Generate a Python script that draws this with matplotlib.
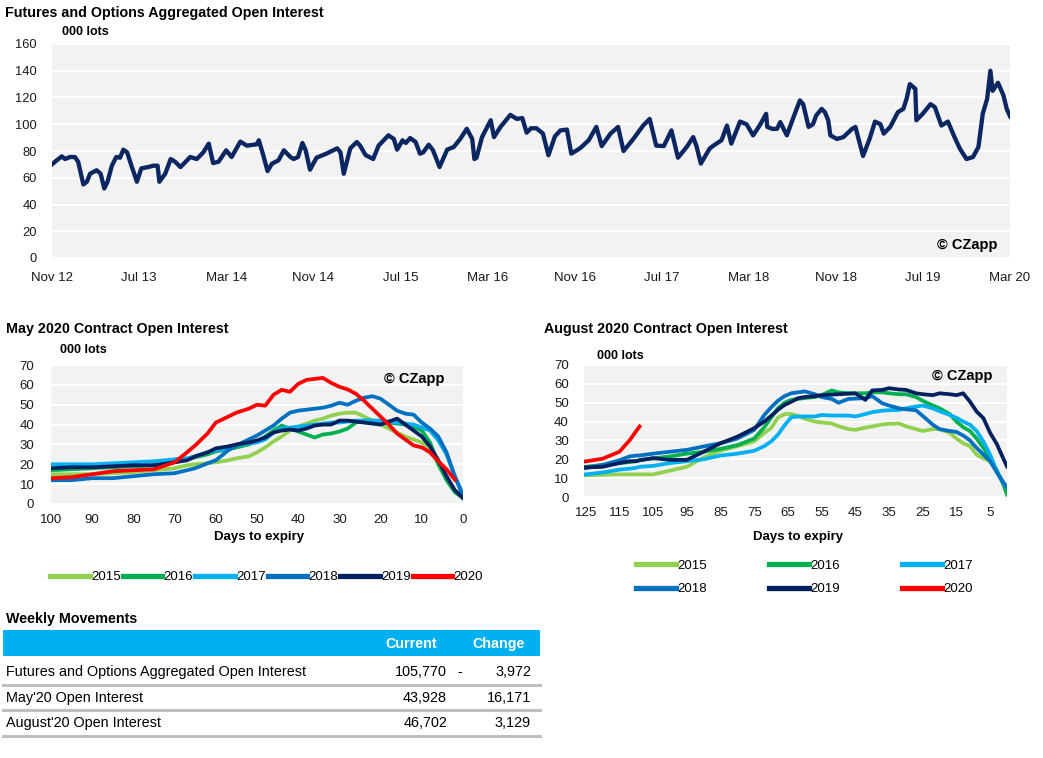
import matplotlib.pyplot as plt
import numpy as np
from matplotlib.patches import Rectangle
from matplotlib.lines import Line2D

plt.rcParams['font.family'] = ['Liberation Sans', 'DejaVu Sans']

W, H = 1043, 758

# aggregated open interest, x = months since Nov 2012, values in 000 lots
oi_month = [0.0, 0.43, 0.9, 1.2, 1.65, 2.1, 2.4, 2.88, 3.2, 3.5, 4.1, 4.47, 4.8, 5.1, 5.5, 5.9,
            6.25, 6.55, 6.9, 7.3, 7.8, 8.2, 8.85, 9.3, 9.7, 9.86, 10.4, 10.9, 11.3, 11.8, 12.7,
            13.3, 13.9, 14.4, 14.8, 15.3, 16.0, 16.5, 17.3, 17.9, 18.8, 19.0, 19.4, 19.8, 20.2,
            20.8, 21.3, 21.9, 22.2, 22.6, 23.0, 23.3, 23.7, 24.3, 25.2, 26.2, 26.5, 26.8, 27.4,
            28.0, 28.3, 28.8, 29.5, 30.0, 30.9, 31.4, 31.7, 32.2, 32.5, 32.9, 33.4, 33.8, 34.1,
            34.6, 35.0, 35.6, 36.3, 36.9, 37.5, 38.1, 38.6, 38.8, 39.0, 39.5, 40.3, 40.6, 41.2,
            42.1, 42.7, 43.2, 43.6, 44.0, 44.5, 45.1, 45.6, 46.2, 46.7, 47.3, 47.7, 48.5, 49.3,
            50.0, 50.5, 51.3, 52.0, 52.5, 53.4, 54.3, 54.9, 55.5, 56.2, 56.9, 57.5, 58.3, 58.9,
            59.2, 59.6, 60.4, 60.7, 61.5, 62.0, 62.4, 63.2, 63.8, 64.4, 65.0, 65.6, 65.7, 66.2,
            66.6, 66.9, 67.5, 68.1, 68.7, 69.0, 69.5, 69.9, 70.2, 70.7, 71.0, 71.3, 71.5, 72.1,
            72.7, 73.5, 73.8, 74.2, 74.5, 75.1, 75.6, 76.1, 76.4, 77.0, 77.7, 78.2, 78.5, 78.8,
            79.3, 79.4, 80.0, 80.7, 81.1, 81.7, 82.3, 82.9, 83.4, 84.0, 84.6, 85.1, 85.5, 85.9,
            86.2, 86.4, 86.9, 87.4, 87.7, 88.0]
oi_value = [70, 73, 76, 74, 75.5, 75.5, 72, 55, 57, 63, 65.6, 63, 52, 57, 69, 75.5,
            75, 81, 79, 69, 57, 67, 68, 69, 69, 57, 63, 74, 72, 68, 75.5,
            74, 79, 85.5, 71, 72, 80.5, 75.5, 87, 84, 85, 88, 77, 65, 70.5,
            73, 80.5, 75.5, 74, 75.5, 86, 80.5, 66, 75, 78, 82, 79, 63, 82,
            86.7, 84, 77, 74, 84, 91.7, 89, 81, 88, 86, 89.7, 86.7, 78, 79,
            84.7, 80.5, 68, 81, 83, 89, 96.6, 89, 74, 75, 90.4, 103, 90.4, 98,
            107, 104, 104.6, 93.7, 97, 97, 93, 76.8, 91, 95.4, 96, 78, 82, 88,
            98, 83.7, 93, 98, 80, 89, 99, 104, 84, 83.7, 95.4, 75, 83, 90.4,
            83.7, 70.6, 81.7, 83.7, 88, 99, 85.5, 102, 100, 91.7, 99, 107.8, 98, 96.5,
            96.6, 101.6, 91.7, 105, 117.8, 115, 98, 100, 106.6, 111.5, 109, 103, 91.7, 89,
            90.4, 96.6, 98, 85.5, 76.3, 89, 102, 100, 93, 98, 109, 111.5, 119, 130,
            126.5, 103, 108, 115, 112.8, 99, 102, 90.4, 81.7, 74, 75.5, 83, 108, 119,
            140, 125, 131, 121.5, 111.5, 106]
top_ticks = ['Nov 12', 'Jul 13', 'Mar 14', 'Nov 14', 'Jul 15', 'Mar 16',
             'Nov 16', 'Jul 17', 'Mar 18', 'Nov 18', 'Jul 19', 'Mar 20']

years = ['2015', '2016', '2017', '2018', '2019', '2020']
colors = ['#92D050', '#00B050', '#00B0F0', '#0070C0', '#002060', '#FF0000']

# May contract, days to expiry
may_days = [100, 95, 90, 85, 80, 75, 70, 67, 65, 62, 60, 57, 55, 52, 50, 48, 46, 44, 42, 40,
            38, 36, 34, 32, 30, 28, 26, 24, 22, 20, 18, 16, 14, 12, 10, 8, 6, 4, 2, 0]
may_2015 = [15, 15, 15, 15.5, 16, 17, 18, 19.5, 20, 20.5, 21, 22, 23, 24, 26, 28.5, 31.5, 34, 37, 39,
            40.5, 42, 43, 44.5, 45.5, 46, 46, 44, 42, 40, 38, 36, 34, 32.5, 31, 28, 20, 13, 7, 3]
may_2016 = [17, 17.5, 18, 18.5, 19, 19.5, 21, 22.5, 23.5, 25, 26.5, 27.5, 28.5, 30, 31.5, 34, 37, 39.5, 38, 36.5,
            35, 33.5, 35, 35.5, 36.5, 38, 41, 42, 42, 41.5, 41, 40.5, 40, 39, 37, 31, 20, 12, 6, 3]
may_2017 = [20, 20, 20, 20.5, 21, 21.5, 22.5, 23, 24, 26, 27, 28, 29.5, 30.5, 31, 32.5, 36, 38, 38.5, 39,
            39.5, 40, 40.5, 41, 41, 41.5, 42, 42, 42, 42, 41.5, 41, 40.5, 40, 38.5, 37, 32, 25, 14, 5]
may_2018 = [12, 12, 13, 13, 14, 15, 15.5, 17, 18, 20.5, 22, 27, 29.5, 32.5, 34.5, 37, 39.5, 43, 46, 47,
            47.5, 48, 48.5, 49.5, 51, 50, 52, 53.5, 54.3, 53, 50, 47, 45.5, 45, 41, 38, 34, 26, 14, 4]
may_2019 = [18, 18.5, 18.5, 19, 19.5, 19.5, 21, 22, 24, 26, 28, 29, 30, 31, 32, 33.5, 36, 37, 37.5, 37,
            38, 39.5, 40, 40, 42, 42, 41.5, 41, 40.5, 40, 41.5, 43, 40, 37, 34, 29, 22, 14, 7, 3]
may_2020 = [13, 13.5, 15, 16.5, 17, 17.5, 21, 26, 29.5, 35.5, 41, 44, 46, 48, 50, 49.5, 55, 57.5, 56.5, 60.5,
            62.5, 63, 63.5, 61, 59, 57.7, 55.5, 52, 48, 44, 40, 35.5, 32.5, 29.5, 28.5, 26, 21.5, 17.5, 12.3, np.nan]

# August contract, days to expiry
aug_days = [125, 120, 115, 112, 110, 109, 105, 100, 95, 90, 85, 80, 75, 72, 70, 68, 66, 64, 62, 60,
            57, 55, 52, 50, 47, 45, 42, 40, 37, 35, 32, 30, 27, 25, 22, 20, 17, 15, 13, 11,
            9, 7, 5, 3, 1, 0]
aug_2015 = [11.5, 11.8, 12, 12, 12, 12, 12, 14, 16, 21, 24.5, 27, 29.5, 34, 36.5, 42, 44, 44, 43, 41.5,
            40, 39.5, 39, 37.5, 36, 35.6, 36.8, 37.4, 38.5, 38.8, 39, 37.5, 36, 35, 36, 36, 34, 31, 28.5, 27,
            22.4, 20.5, 19, 13.6, 6.5, 1.2]
aug_2016 = [16, 17, 18, 18.5, 19, 19.5, 20.5, 21.5, 23, 24, 25.5, 27.5, 31, 37, 42, 47, 50, 51.5, 52, 52.5,
            53, 54, 56.5, 55.5, 55, 55, 55, 55.5, 55.5, 55, 54.5, 54.5, 53, 51, 48.5, 47, 44, 40, 37, 35,
            31, 26, 20.6, 14, 6.5, 1.5]
aug_2017 = [12, 13, 14.5, 15, 15.5, 16, 16.5, 18, 19, 20, 22, 23, 24.5, 27, 29.4, 33, 38, 42.3, 42.7, 42.7,
            42.7, 43.5, 43.2, 43.2, 43.2, 42.7, 44, 45, 45.8, 46, 46.2, 47, 48, 48.5, 47, 45.5, 43.5, 42, 40, 38.3,
            35, 29.4, 22.4, 13.6, 7, 5.6]
aug_2018 = [15.3, 17, 19.5, 21.5, 22, 22, 23, 24, 25, 26.8, 28.5, 31, 35.6, 43.5, 47.5, 51, 53.5, 55, 55.5, 56,
            54.5, 53, 52, 50, 52, 52.2, 52.4, 53.5, 49.7, 48.5, 47, 46.5, 46, 43, 38.3, 36, 35, 34.5, 32.6, 30,
            26, 22.5, 19, 13, 7.5, 5]
aug_2019 = [15.7, 16, 18, 19, 19, 19.5, 20.6, 19.7, 19.7, 24, 28.5, 32, 36.5, 40, 43, 46.2, 48.8, 50.5, 52.4, 53,
            53.5, 54, 54.3, 54.5, 54.8, 55, 51.5, 56.5, 56.8, 57.7, 57, 56.8, 55, 54.5, 54, 55, 54.5, 54, 55, 50.6,
            45.3, 41.8, 34, 28, 20, 16.2]
aug_2020 = [18.9, 20.3, 24, 30, 35, 37.4] + [np.nan] * 40

# weekly movements table
table_rows = ['Futures and Options Aggregated Open Interest', "May'20 Open Interest", "August'20 Open Interest"]
table_current = ['105,770', '43,928', '46,702']
table_sign = ['-', '', '']
table_change = ['3,972', '16,171', '3,129']


def fx(x):
    return x / W


def fy(y):
    return 1 - y / H


def style(ax, ymax, ystep):
    ax.set_facecolor('#F2F2F2')
    for s in ax.spines.values():
        s.set_visible(False)
    ax.set_ylim(0, ymax)
    ax.set_yticks(range(0, ymax + 1, ystep))
    ax.grid(axis='y', color='white', linewidth=1.5)
    ax.set_axisbelow(True)
    ax.tick_params(length=0, labelsize=9.5, colors='#1a1a1a')


fig = plt.figure(figsize=(W / 100, H / 100), dpi=100)

# top chart
ax1 = fig.add_axes([fx(52), fy(258), fx(958), 214 / H])
style(ax1, 160, 20)
ax1.plot(oi_month, oi_value, color='#0B2660', linewidth=3.1, solid_joinstyle='round')
ax1.set_xlim(0, 88)
ax1.set_xticks(np.arange(0, 89, 8))
ax1.set_xticklabels(top_ticks)
ax1.tick_params(axis='y', pad=11, labelsize=9.3)
ax1.tick_params(axis='x', pad=10, labelsize=9.5)
ax1.text(0.987, 0.06, '© CZapp', transform=ax1.transAxes, ha='right', va='center',
         fontsize=10.5, fontweight='bold', family=['Liberation Sans Narrow', 'Liberation Sans'])
fig.text(fx(5), fy(13), 'Futures and Options Aggregated Open Interest', fontsize=10.3,
         fontweight='bold', va='center')
fig.text(fx(62), fy(32), '000 lots', fontsize=9, fontweight='bold', va='center')

# May chart
ax2 = fig.add_axes([fx(51), fy(504), fx(412), 139 / H])
style(ax2, 70, 10)
for yr, c, v in zip(years, colors, [may_2015, may_2016, may_2017, may_2018, may_2019, may_2020]):
    ax2.plot(may_days, v, color=c, linewidth=2.7, label=yr, solid_joinstyle='round')
ax2.set_xlim(100, 0)
ax2.set_xticks(range(100, -1, -10))
ax2.tick_params(axis='y', pad=12)
ax2.tick_params(axis='x', pad=7)
ax2.text(0.955, 0.9, '© CZapp', transform=ax2.transAxes, ha='right', va='center',
         fontsize=10.5, fontweight='bold', family=['Liberation Sans Narrow', 'Liberation Sans'])
fig.text(fx(6), fy(329), 'May 2020 Contract Open Interest', fontsize=10.3, fontweight='bold', va='center')
fig.text(fx(60), fy(350), '000 lots', fontsize=9, fontweight='bold', va='center')
fig.text(fx(259), fy(537), 'Days to expiry', fontsize=9.5, fontweight='bold', ha='center', va='center')
leg2 = ax2.legend(loc='center left', bbox_to_anchor=(fx(50), fy(577)), bbox_transform=fig.transFigure,
                  ncol=6, frameon=False, fontsize=9.5, handlelength=3.0, handletextpad=0.1,
                  columnspacing=0.15, borderpad=0, borderaxespad=0)
for ln in leg2.get_lines():
    ln.set_linewidth(3.8)

# August chart
ax3 = fig.add_axes([fx(584), fy(497), fx(423), 132 / H])
style(ax3, 70, 10)
lines3 = []
for yr, c, v in zip(years, colors, [aug_2015, aug_2016, aug_2017, aug_2018, aug_2019, aug_2020]):
    ln, = ax3.plot(aug_days, v, color=c, linewidth=2.7, label=yr, solid_joinstyle='round')
    lines3.append(ln)
ax3.set_xlim(125.5, 0)
ax3.set_xticks(range(125, 0, -10))
ax3.tick_params(axis='y', pad=11)
ax3.tick_params(axis='x', pad=7)
ax3.text(0.965, 0.92, '© CZapp', transform=ax3.transAxes, ha='right', va='center',
         fontsize=10.5, fontweight='bold', family=['Liberation Sans Narrow', 'Liberation Sans'])
fig.text(fx(544), fy(329), 'August 2020 Contract Open Interest', fontsize=10.3, fontweight='bold', va='center')
fig.text(fx(597), fy(356), '000 lots', fontsize=9, fontweight='bold', va='center')
fig.text(fx(798), fy(537), 'Days to expiry', fontsize=9.5, fontweight='bold', ha='center', va='center')
order = [0, 3, 1, 4, 2, 5]
leg3 = ax3.legend([lines3[i] for i in order], [years[i] for i in order], loc='center left',
                  bbox_to_anchor=(fx(636), fy(577.5)), bbox_transform=fig.transFigure,
                  ncol=3, frameon=False, fontsize=9.5, handlelength=3.0, handletextpad=0.1,
                  columnspacing=4.75, labelspacing=0.85, borderpad=0, borderaxespad=0)
for ln in leg3.get_lines():
    ln.set_linewidth(3.8)

# weekly movements table
fig.text(fx(6), fy(619), 'Weekly Movements', fontsize=10.3, fontweight='bold', va='center')
fig.patches.append(Rectangle((fx(3), fy(656)), fx(537), 26 / H, transform=fig.transFigure,
                             facecolor='#00B0F0', edgecolor='none'))
fig.text(fx(437), fy(644), 'Current', fontsize=10.3, fontweight='bold', color='white', ha='right', va='center')
fig.text(fx(525), fy(644), 'Change', fontsize=10.3, fontweight='bold', color='white', ha='right', va='center')
row_y = [672, 698, 723]
line_y = [685, 710, 736]
for i in range(3):
    fig.text(fx(6), fy(row_y[i]), table_rows[i], fontsize=10.4, va='center')
    fig.text(fx(447), fy(row_y[i]), table_current[i], fontsize=10.4, ha='right', va='center')
    fig.text(fx(460), fy(row_y[i]), table_sign[i], fontsize=10.4, ha='center', va='center')
    fig.text(fx(531), fy(row_y[i]), table_change[i], fontsize=10.4, ha='right', va='center')
    fig.lines.append(Line2D([fx(3), fx(540)], [fy(line_y[i]), fy(line_y[i])], transform=fig.transFigure,
                            color='#BFBFBF', linewidth=2.2))

fig.savefig('out.png', dpi=100, facecolor='white')
